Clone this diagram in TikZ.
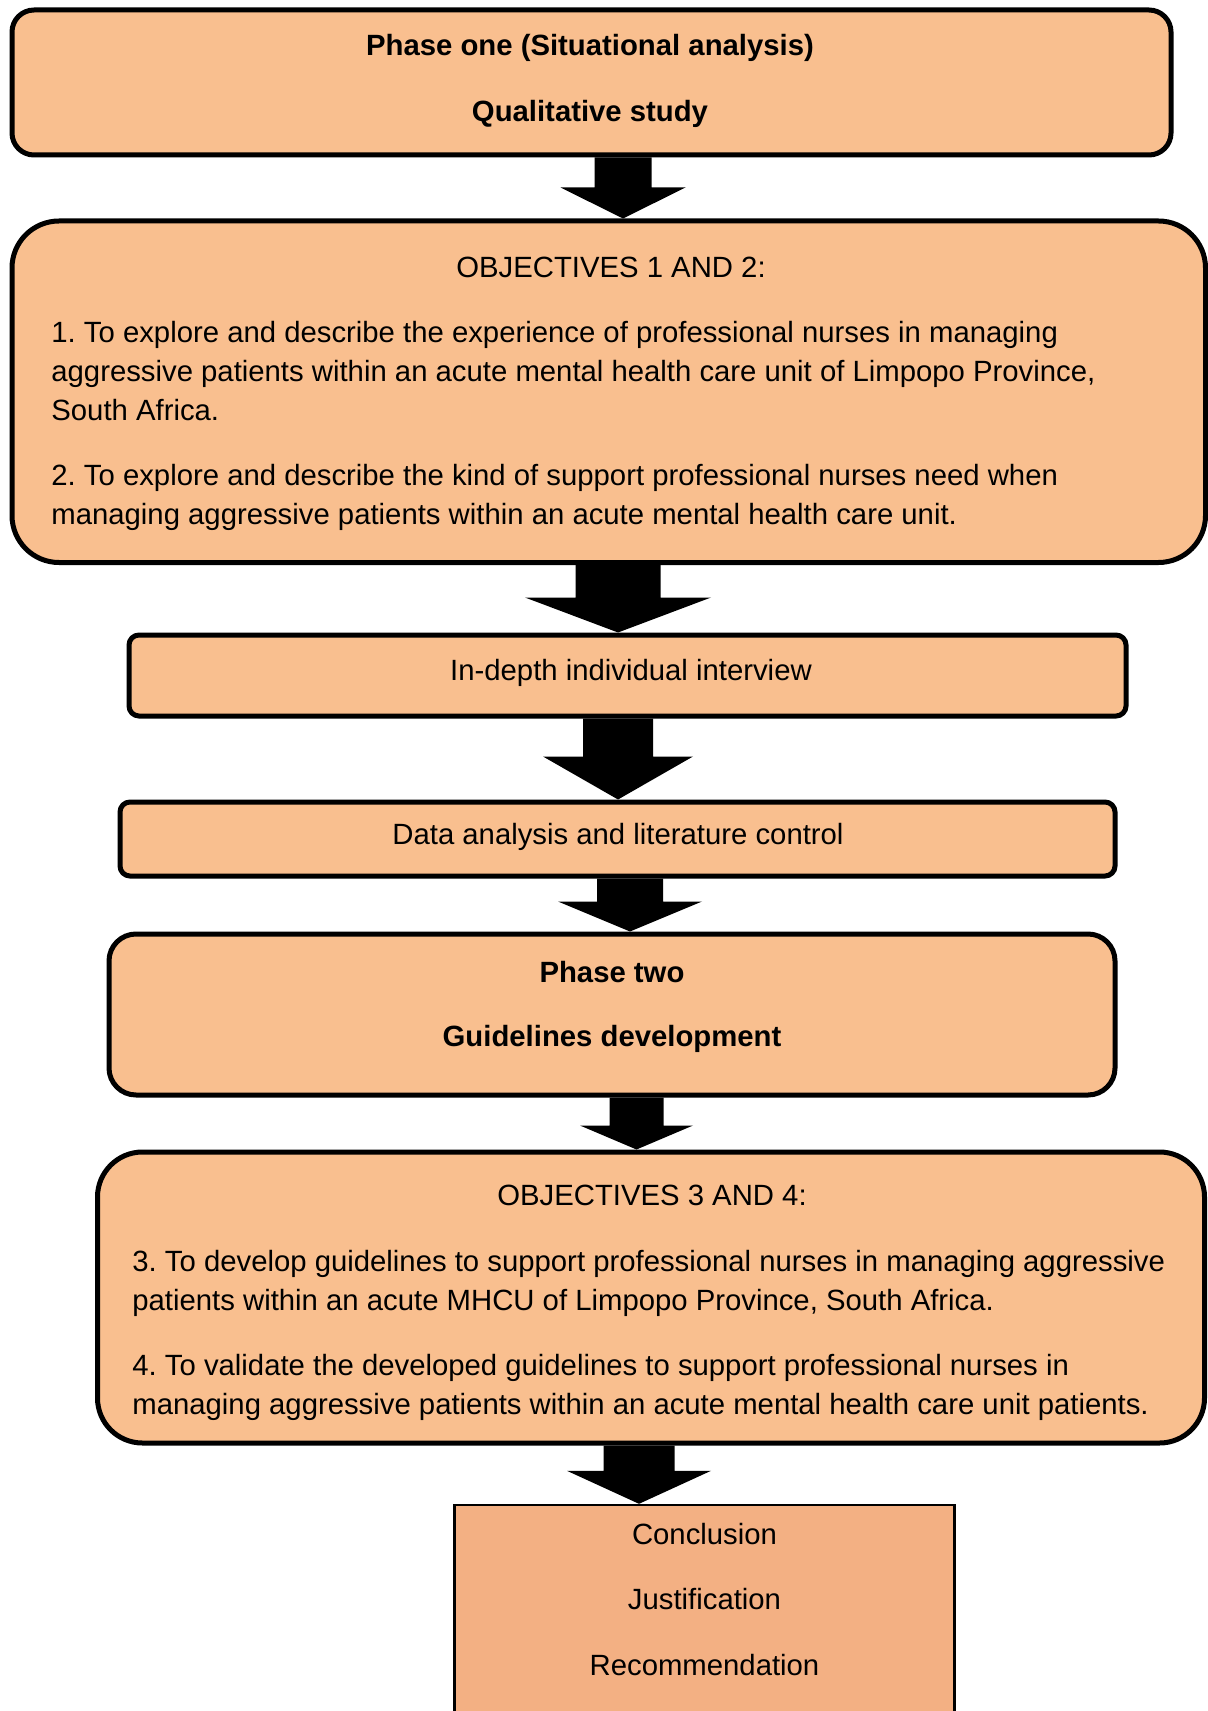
\documentclass[tikz,border=0pt]{standalone}
\usepackage{fontspec}
\setmainfont{Liberation Sans}
\frenchspacing
\usetikzlibrary{calc,positioning}
\definecolor{peach}{HTML}{F9BF8F}
\definecolor{salmon}{HTML}{F3B083}
\definecolor{ink}{HTML}{000000}
\tikzset{
  stagebox/.style={draw=ink,fill=peach,line width=2.5pt,inner sep=0pt},
  endbox/.style={draw=ink,fill=salmon,line width=1.2pt,inner sep=0pt},
  txt/.style={inner sep=0pt,font=\fontsize{14.65}{19.5}\selectfont},
  headtxt/.style={inner sep=0pt,font=\fontsize{14.65}{19.5}\selectfont\bfseries},
  blockarr/.style={fill=ink}
}
% block arrow: from, to, axis x, shaft half, head half, head length
\newcommand{\blockarrow}[6]{%
  \coordinate (ax) at (#3,0);
  \fill[blockarr] ($(#1.south -| ax)+(-#4,0)$) -- ($(#1.south -| ax)+(#4,0)$)
    -- ($(#2.north -| ax)+(#4,-#6)$) -- ($(#2.north -| ax)+(#5,-#6)$)
    -- (#2.north -| ax)
    -- ($(#2.north -| ax)+(-#5,-#6)$) -- ($(#2.north -| ax)+(-#4,-#6)$) -- cycle;}

\begin{document}
\begin{tikzpicture}[x=0.5pt,y=-0.5pt]
    \path[use as bounding box] (0,0) rectangle (1208,1711);

    % phase one
    \node[stagebox,rounded corners=11pt,minimum width=579.5pt,
          minimum height=72.5pt] (phaseone) at (591.5,82.5) {};
    \node[headtxt,anchor=base] (phaseonetitle) at (590,56)
      {Phase one (Situational analysis)};
    \node[headtxt,anchor=base] (phaseonetype) at (590,121.7)
      {Qualitative study};

    % objectives 1 and 2 (base = last line)
    \node[stagebox,rounded corners=23.5pt,minimum width=596.75pt,
          minimum height=170.75pt] (objonetwo) at (608.75,391.75) {};
    \node[txt,anchor=base] (objonetwohead) at (611,278)
      {OBJECTIVES 1 AND 2:};
    \node[txt,anchor=base west,align=left] (objonetwolist) at (51,524)
      {1. To explore and describe the experience of professional nurses in managing\\
       aggressive patients within an acute mental health care unit of Limpopo Province,\\
       South Africa.\\[13pt]
       2. To explore and describe the kind of support professional nurses need when\\
       managing aggressive patients within an acute mental health care unit.};

    % data collection and analysis
    \node[stagebox,rounded corners=5pt,minimum width=498.5pt,
          minimum height=40.5pt] (interview) at (627.5,675.5) {};
    \node[txt,anchor=base] (interviewtext) at (631,680)
      {In-depth individual interview};
    \node[stagebox,rounded corners=5pt,minimum width=497.5pt,
          minimum height=37pt] (analysis) at (617.5,839) {};
    \node[txt,anchor=base] (analysistext) at (618,844)
      {Data analysis and literature control};

    % phase two
    \node[stagebox,rounded corners=13.5pt,minimum width=503pt,
          minimum height=80.5pt] (phasetwo) at (612,1014.5) {};
    \node[headtxt,anchor=base] (phasetwotitle) at (612,982) {Phase two};
    \node[headtxt,anchor=base] (phasetwotype) at (612,1046)
      {Guidelines development};

    % objectives 3 and 4 (base = last line)
    \node[stagebox,rounded corners=22.5pt,minimum width=553.5pt,
          minimum height=145.5pt] (objthreefour) at (651,1297.5) {};
    \node[txt,anchor=base] (objthreefourhead) at (652,1205)
      {OBJECTIVES 3 AND 4:};
    \node[txt,anchor=base west,align=left] (objthreefourlist) at (132,1414)
      {3. To develop guidelines to support professional nurses in managing aggressive\\
       patients within an acute MHCU of Limpopo Province, South Africa.\\[13pt]
       4. To validate the developed guidelines to support professional nurses in\\
       managing aggressive patients within an acute mental health care unit patients.};

    % outcome
    \node[endbox,minimum width=250pt,minimum height=127.5pt] (outcome)
      at (704.5,1632.5) {};
    \node[txt,anchor=base] (conclusion) at (704.5,1544) {Conclusion};
    \node[txt,anchor=base] (justification) at (704.5,1609) {Justification};
    \node[txt,anchor=base] (recommendation) at (704.5,1675) {Recommendation};

    \blockarrow{phaseone}{objonetwo}{623}{28.5}{62.5}{31}
    \blockarrow{objonetwo}{interview}{618}{42.5}{93}{35}
    \blockarrow{interview}{analysis}{618}{35}{75}{43}
    \blockarrow{analysis}{phasetwo}{630}{33}{72}{30}
    \blockarrow{phasetwo}{objthreefour}{636.5}{27}{56.5}{24}
    \blockarrow{objthreefour}{outcome}{639}{35.5}{72}{33}
  \end{tikzpicture}
\end{document}
